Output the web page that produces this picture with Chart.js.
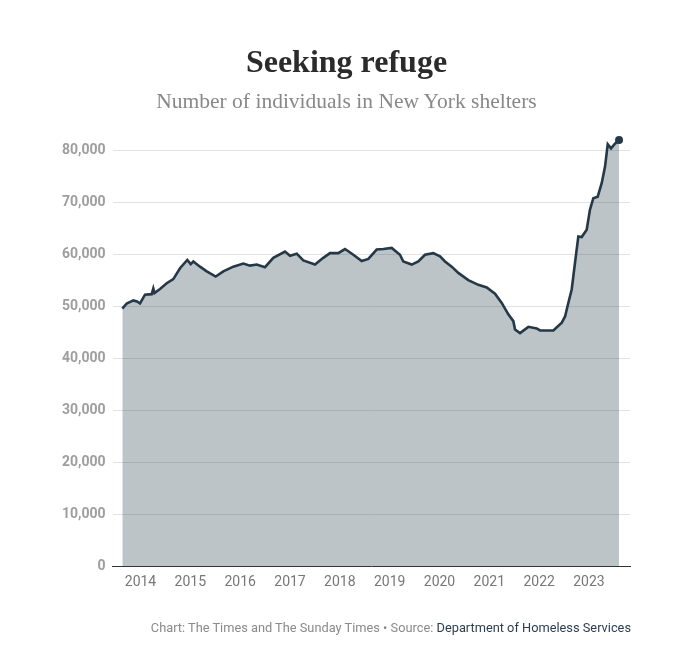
<!DOCTYPE html>
<html>
<head>
<meta charset="utf-8">
<script src="https://cdn.jsdelivr.net/npm/chart.js@4"></script>
<style>
  html, body { margin: 0; padding: 0; background: #fff; }
  #wrap { position: relative; width: 693px; height: 669px; }
  #chart { position: absolute; left: 0; top: 0; }
  .title { position: absolute; left: 0; width: 693px; text-align: center; font-family: "Liberation Serif", serif; }
  #t1 { top: 43px; font-size: 32px; font-weight: bold; color: #2b2b2b; }
  #t2 { top: 89px; font-size: 21.5px; color: #888; }
  #foot { position: absolute; right: 62px; top: 620px; font-family: Roboto, sans-serif; font-size: 12.8px; color: #8a8a8a; }
  #foot span { color: #2c3e50; }
</style>
</head>
<body>
<div id="wrap">
  <canvas id="chart" width="693" height="669"></canvas>
  <div class="title" id="t1">Seeking refuge</div>
  <div class="title" id="t2">Number of individuals in New York shelters</div>
  <div id="foot">Chart: The Times and The Sunday Times • Source: <span>Department of Homeless Services</span></div>
</div>
<script>
// decimal years and shelter population
const dates = [
  2013.635, 2013.723, 2013.856, 2013.93, 2013.990, 2014.090, 2014.225, 2014.257, 2014.281, 2014.391,
  2014.526, 2014.658, 2014.793, 2014.939, 2015.007, 2015.060, 2015.194, 2015.329, 2015.509, 2015.662,
  2015.862, 2016.063, 2016.197, 2016.332, 2016.498, 2016.665, 2016.900, 2017.000, 2017.135, 2017.267,
  2017.502, 2017.668, 2017.803, 2017.969, 2018.104, 2018.271, 2018.439, 2018.572, 2018.740, 2018.873,
  2019.041, 2019.207, 2019.274, 2019.442, 2019.575, 2019.709, 2019.876, 2020.010, 2020.111, 2020.245,
  2020.378, 2020.578, 2020.779, 2020.948, 2021.114, 2021.249, 2021.381, 2021.482, 2021.516, 2021.616,
  2021.783, 2021.952, 2022.018, 2022.285, 2022.454, 2022.520, 2022.585, 2022.653, 2022.719, 2022.786,
  2022.854, 2022.954, 2023.020, 2023.087, 2023.175, 2023.255, 2023.322, 2023.376, 2023.442, 2023.522,
  2023.603
];
const shelterCounts = [
  49600, 50600, 51200, 51000, 50600, 52300, 52400, 53500, 52600, 53400,
  54500, 55300, 57400, 59000, 58200, 58700, 57700, 56800, 55800, 56800,
  57700, 58300, 57900, 58100, 57600, 59400, 60600, 59800, 60200, 58900,
  58100, 59400, 60300, 60300, 61100, 60000, 58800, 59200, 61000, 61100,
  61300, 60000, 58700, 58100, 58700, 60000, 60300, 59700, 58700, 57700,
  56500, 55100, 54200, 53700, 52500, 50700, 48500, 47200, 45600, 44900,
  46100, 45800, 45400, 45400, 46900, 48100, 50700, 53300, 58400, 63500,
  63400, 64800, 68700, 70900, 71200, 73800, 77000, 81300, 80500, 81400,
  82100
];
const yearTicks = [2014, 2015, 2016, 2017, 2018, 2019, 2020, 2021, 2022, 2023];
const valueTicks = [0, 10000, 20000, 30000, 40000, 50000, 60000, 70000, 80000];

const points = dates.map((d, i) => ({ x: d, y: shelterCounts[i] }));
const last = points.length - 1;

new Chart(document.getElementById('chart'), {
  type: 'line',
  data: {
    datasets: [{
      data: points,
      borderColor: '#253847',
      borderWidth: 2.6,
      backgroundColor: 'rgba(38,58,74,0.3)',
      fill: 'origin',
      tension: 0,
      clip: false,
      pointRadius: ctx => ctx.dataIndex === last ? 4 : 0,
      pointBackgroundColor: '#253847',
      pointBorderWidth: 0
    }]
  },
  options: {
    responsive: false,
    animation: false,
    layout: { padding: { top: 138, right: 63, bottom: 73, left: 0 } },
    plugins: { legend: { display: false }, tooltip: { enabled: false } },
    scales: {
      x: {
        type: 'linear',
        min: 2013.438,
        max: 2023.823,
        afterBuildTicks: s => { s.ticks = yearTicks.map(v => ({ value: v })); },
        afterFit: s => { s.height = 30; },
        grid: { display: false, drawTicks: false },
        border: { display: true, color: '#333', width: 1 },
        ticks: {
          padding: 8,
          color: '#777',
          font: { family: 'Roboto', size: 14 },
          callback: v => String(v)
        }
      },
      y: {
        min: 0,
        max: 82500,
        afterBuildTicks: s => { s.ticks = valueTicks.map(v => ({ value: v })); },
        afterFit: s => { s.width = 112.5; },
        grid: { color: '#e2e2e2', lineWidth: 1, drawTicks: false },
        border: { display: false },
        ticks: {
          padding: 7,
          color: '#9e9e9e',
          font: { family: 'Roboto', size: 14, weight: 'bold' },
          callback: v => v.toLocaleString('en-US')
        }
      }
    }
  }
});
</script>
</body>
</html>
